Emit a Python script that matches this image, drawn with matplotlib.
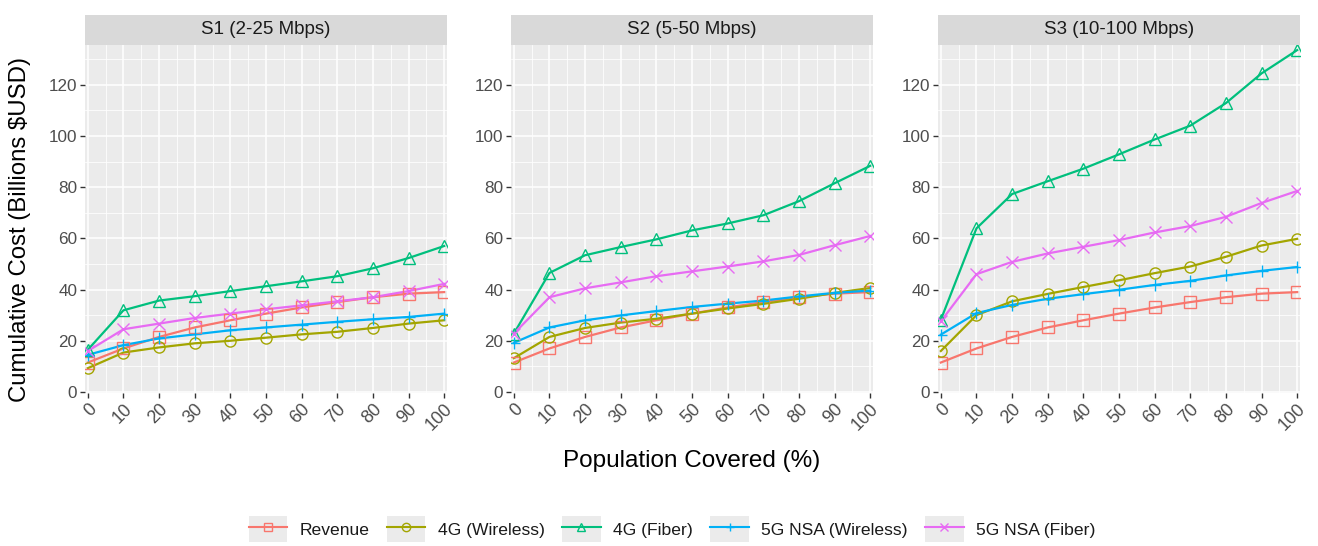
import matplotlib
matplotlib.use("Agg")
import matplotlib.pyplot as plt
from matplotlib.legend_handler import HandlerLine2D
from matplotlib.patches import Rectangle
from matplotlib.lines import Line2D

plt.rcParams['font.family'] = ['Liberation Sans', 'DejaVu Sans']

coverage = [0, 10, 20, 30, 40, 50, 60, 70, 80, 90, 100]
panels = ["S1 (2-25 Mbps)", "S2 (5-50 Mbps)", "S3 (10-100 Mbps)"]
series_names = ["Revenue", "4G (Wireless)", "4G (Fiber)", "5G NSA (Wireless)", "5G NSA (Fiber)"]
colors = ["#F8766D", "#A3A500", "#00BF7D", "#00B0F6", "#E76BF3"]
markers = ["s", "o", "^", "+", "x"]

revenue = [11.5, 17.0, 21.5, 25.2, 28.0, 30.6, 33.0, 35.1, 37.0, 38.4, 39.0]

s1_4g_wireless = [9.3, 15.4, 17.4, 19.0, 20.0, 21.2, 22.5, 23.5, 25.0, 26.7, 28.0]
s1_4g_fiber = [16.5, 31.9, 35.7, 37.4, 39.4, 41.3, 43.2, 45.2, 48.3, 52.3, 57.0]
s1_5g_wireless = [14.5, 18.3, 20.9, 22.5, 24.1, 25.2, 26.3, 27.4, 28.4, 29.3, 30.6]
s1_5g_fiber = [16.0, 24.5, 26.7, 28.9, 30.6, 32.3, 33.8, 35.4, 37.0, 39.4, 42.2]

s2_4g_wireless = [13.2, 21.5, 25.0, 27.1, 28.6, 30.6, 32.6, 34.4, 36.4, 38.7, 40.6]
s2_4g_fiber = [22.8, 46.5, 53.4, 56.6, 59.6, 63.1, 65.8, 69.0, 74.5, 81.5, 88.3]
s2_5g_wireless = [19.2, 25.2, 28.0, 29.9, 31.6, 33.2, 34.5, 35.7, 37.3, 38.7, 39.6]
s2_5g_fiber = [22.8, 37.0, 40.5, 42.8, 45.2, 47.1, 49.0, 51.0, 53.5, 57.3, 60.9]

s3_4g_wireless = [16.0, 30.0, 35.4, 38.3, 41.0, 43.6, 46.4, 49.0, 52.8, 57.2, 59.8]
s3_4g_fiber = [28.2, 63.9, 77.3, 82.3, 87.2, 92.8, 98.6, 104.0, 112.8, 124.4, 133.5]
s3_5g_wireless = [22.4, 30.8, 34.0, 36.4, 38.2, 39.9, 41.8, 43.4, 45.5, 47.3, 48.8]
s3_5g_fiber = [27.6, 46.0, 50.8, 54.1, 56.7, 59.3, 62.3, 64.8, 68.4, 73.8, 78.5]

panel_data = [
    [revenue, s1_4g_wireless, s1_4g_fiber, s1_5g_wireless, s1_5g_fiber],
    [revenue, s2_4g_wireless, s2_4g_fiber, s2_5g_wireless, s2_5g_fiber],
    [revenue, s3_4g_wireless, s3_4g_fiber, s3_5g_wireless, s3_5g_fiber],
]
y_ticks = [0, 20, 40, 60, 80, 100, 120]

W, H = 1318, 546
fig = plt.figure(figsize=(W / 100, H / 100), dpi=100)

panel_left = [85, 511, 938]
panel_w = 362
panel_top = 45
panel_bottom = 393
strip_top = 15

for i, (left, title, data) in enumerate(zip(panel_left, panels, panel_data)):
    ax = fig.add_axes([left / W, 1 - panel_bottom / H, panel_w / W, (panel_bottom - panel_top) / H])
    ax.set_facecolor("#EBEBEB")
    ax.set_xlim(-0.8, 100.8)
    ax.set_ylim(-0.4, 135.5)
    ax.set_xticks(coverage)
    ax.set_xticks([c + 5 for c in coverage[:-1]], minor=True)
    ax.set_yticks(y_ticks)
    ax.set_yticks([10, 30, 50, 70, 90, 110, 130], minor=True)
    ax.grid(which="major", color="white", linewidth=1.1)
    ax.grid(which="minor", color="white", linewidth=0.55)
    ax.set_axisbelow(True)
    for sp in ax.spines.values():
        sp.set_visible(False)
    ax.tick_params(which="major", length=3.5, width=1.0, color="#333333",
                   labelsize=12.3, labelcolor="#4D4D4D", pad=2)
    ax.tick_params(axis="x", which="major", labelsize=13)
    ax.tick_params(which="minor", length=0)
    ax.set_xticklabels([str(c) for c in coverage], rotation=45, ha="right", va="top",
                       rotation_mode="anchor")
    for vals, col in zip(data, colors):
        ax.plot(coverage, vals, color=col, linewidth=1.6, zorder=3)
    for vals, col, mk in zip(data, colors, markers):
        ax.plot(coverage, vals, linestyle="none", marker=mk, markersize=8,
                markerfacecolor="none", markeredgecolor=col, markeredgewidth=1.0, zorder=4)
    sax = fig.add_axes([left / W, 1 - panel_top / H, panel_w / W, (panel_top - strip_top) / H])
    sax.set_facecolor("#D9D9D9")
    sax.set_xticks([])
    sax.set_yticks([])
    for sp in sax.spines.values():
        sp.set_visible(False)
    sax.text(0.5, 0.5, title, ha="center", va="center", fontsize=13.5, color="#1A1A1A",
             transform=sax.transAxes)

fig.text(20 / W, 1 - 229 / H, "Cumulative Cost (Billions $USD)", rotation=90,
         ha="center", va="center", fontsize=17.3, color="black")
fig.text(692 / W, 1 - 461 / H, "Population Covered (%)", ha="center", va="center",
         fontsize=17.5, color="black")


class GrayKey(HandlerLine2D):
    def create_artists(self, legend, orig_handle, xdescent, ydescent, width, height,
                       fontsize, trans):
        rect = Rectangle((-xdescent, -ydescent - 0.15 * height), width, height * 1.3,
                         facecolor="#EBEBEB", edgecolor="none", transform=trans)
        arts = super().create_artists(legend, orig_handle, xdescent, ydescent, width,
                                      height, fontsize, trans)
        return [rect] + list(arts)


handles = [Line2D([0], [0], color=c, marker=m, markersize=6, markerfacecolor="none",
                  markeredgecolor=c, markeredgewidth=1.0, linewidth=1.5)
           for c, m in zip(colors, markers)]
leg = fig.legend(handles, series_names, loc="center", bbox_to_anchor=(672 / W, 1 - 529 / H),
                 ncol=5, frameon=False, fontsize=12.6, handlelength=2.2, handleheight=1.4,
                 handletextpad=0.7, columnspacing=1.0,
                 handler_map={Line2D: GrayKey(numpoints=1)})
for t in leg.get_texts():
    t.set_color("#1A1A1A")

fig.savefig("out.png", dpi=100)
